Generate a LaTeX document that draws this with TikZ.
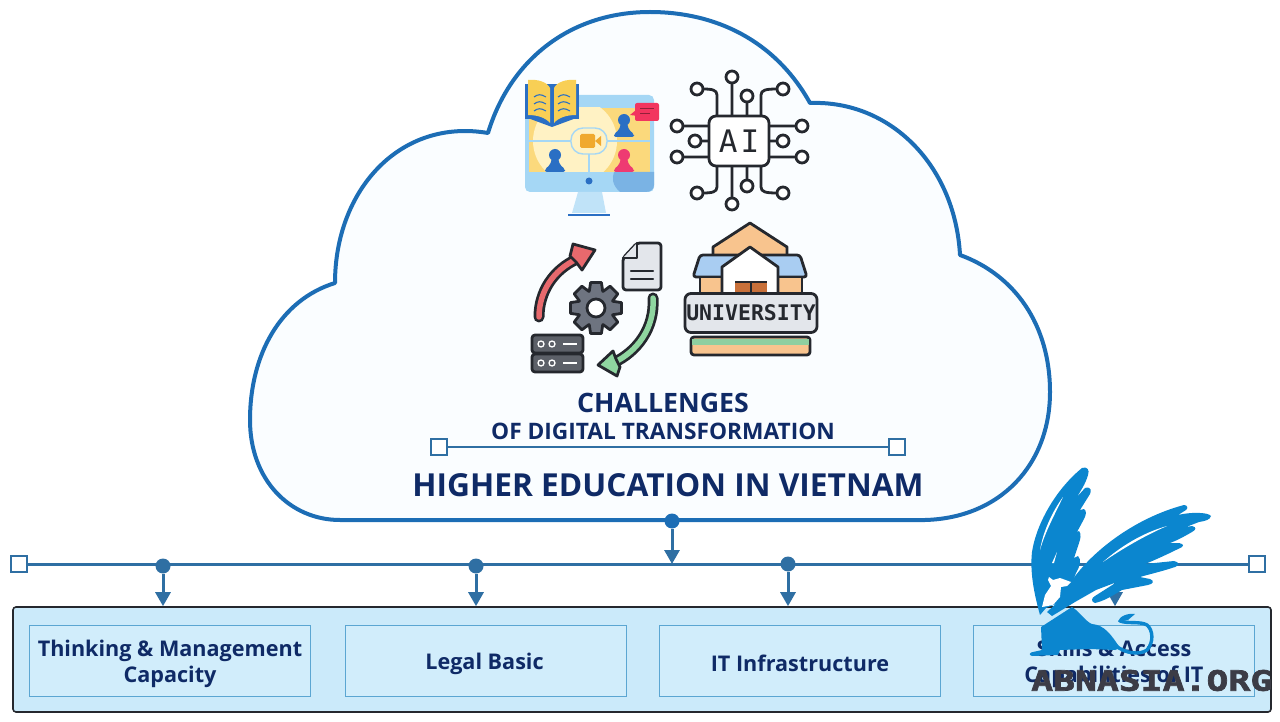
\documentclass[tikz,border=0pt]{standalone}
\usepackage{fontspec}
\setmainfont{Open Sans}
\newfontfamily\markfont{DejaVu Sans Mono}
\usetikzlibrary{arrows.meta}
\definecolor{navy}{HTML}{0F2A66}
\definecolor{cloudline}{HTML}{1C6DB5}
\definecolor{busline}{HTML}{2F6FA3}
\definecolor{panelfill}{HTML}{CBEAFA}
\definecolor{tilefill}{HTML}{D1EDFB}
\definecolor{tileline}{HTML}{5BA6D2}
\definecolor{griffin}{HTML}{0B86CF}
\definecolor{inkdark}{HTML}{25282E}
\definecolor{bezel}{HTML}{A5D7F5}
\definecolor{screenbg}{HTML}{FBD97C}
\definecolor{screenlight}{HTML}{FFF2C4}
\definecolor{peopleblue}{HTML}{2A6FC4}
\definecolor{peoplepink}{HTML}{EE3A72}
\definecolor{bookyellow}{HTML}{F8CF55}
\definecolor{camorange}{HTML}{F0A92E}
\definecolor{bubblered}{HTML}{F2355F}
\definecolor{arrowred}{HTML}{E8696D}
\definecolor{arrowgreen}{HTML}{8FD6A0}
\definecolor{geargray}{HTML}{6E7480}
\definecolor{servergray}{HTML}{5C6068}
\definecolor{paper}{HTML}{E3E6EB}
\definecolor{roofpeach}{HTML}{F8C48E}
\definecolor{roofblue}{HTML}{A9CDF2}
\definecolor{doorbrown}{HTML}{C8703A}
\definecolor{lawn}{HTML}{8ECFA0}
\definecolor{markgray}{HTML}{3C3C46}
\tikzset{
    endbox/.style={draw=busline, line width=2.8pt, fill=white, minimum size=16pt, inner sep=0pt},
    busdot/.style={circle, fill=busline, minimum size=15pt, inner sep=0pt},
    busarrow/.style={draw=busline, line width=3pt, -{Triangle[width=15pt,length=14pt]}},
    tile/.style={draw=tileline, line width=1.6pt, fill=tilefill, minimum width=281pt, minimum height=71pt},
    tiletext/.style={align=center, text=navy, font=\bfseries\fontsize{21.6}{26}\selectfont},
    icon/.style={draw=inkdark, line width=2.8pt, line join=round, line cap=round},
}

\begin{document}
\begin{tikzpicture}[x=1pt, y=-1pt]
    \useasboundingbox (0,0) rectangle (1280,722);

    % cloud
    \draw[draw=cloudline, line width=4pt, fill=cyan!2!white, line join=round]
        (340,520) -- (925,520)
        .. controls (1000,518) and (1050,465) .. (1050,392)
        .. controls (1050,325) and (1015,275) .. (960,255)
        .. controls (955,165) and (890,100) .. (810,103)
        .. controls (775,40) and (715,12) .. (650,12)
        .. controls (570,12) and (510,60) .. (488,133)
        .. controls (400,118) and (335,190) .. (335,283)
        .. controls (280,300) and (250,355) .. (250,420)
        .. controls (250,480) and (290,520) .. (340,520) -- cycle;

    % monitor
    \fill[fill=bezel, rounded corners=5pt] (525,95) rectangle (654,192);
    \fill[fill=bezel!70!white] (578,192) -- (602,192) -- (606,213) -- (572,213) -- cycle;
    \draw[draw=peopleblue, line width=2pt] (568,215) -- (610,215);
    \fill[fill=screenbg] (529,108) rectangle (650,172);
    \begin{scope}
        \clip (529,108) rectangle (650,172);
        \fill[fill=screenlight] (575,141) circle[radius=42pt];
    \end{scope}
    \fill[fill=peopleblue!35!bezel] (654,172) -- (654,185) .. controls (654,190) and (650,192) .. (645,192) -- (620,192) .. controls (612,185) and (612,178) .. (614,172) -- cycle;
    \draw[draw=bezel, line width=1.4pt] (529,141) -- (650,141) (589,141) -- (589,172);
    \fill[fill=peopleblue] (589,181) circle[radius=3.5pt];
    \foreach \px/\py/\pc in {624/120/peopleblue, 555/155/peopleblue, 624/155/peoplepink}{
        \fill[fill=\pc] (\px,\py) circle[radius=6pt];
        \fill[fill=\pc, rounded corners=2pt] (\px-3,\py+3) -- (\px+3,\py+3) -- (\px+5,\py+10) -- (\px+10,\py+14)
            -- (\px+10,\py+17) -- (\px-10,\py+17) -- (\px-10,\py+14) -- (\px-5,\py+10) -- cycle;
    }
    \draw[draw=bezel, fill=screenlight, line width=1.4pt, rounded corners=12pt] (571,128) rectangle (607,154);
    \fill[fill=camorange, rounded corners=1.5pt] (580,134) rectangle (595,148);
    \fill[fill=camorange] (595,141) -- (601,136) -- (601,146) -- cycle;
    \fill[fill=bubblered, rounded corners=2pt] (635,103) rectangle (659,121);
    \fill[fill=bubblered] (636,110) -- (630,115) -- (638,116) -- cycle;
    \draw[draw=bubblered!60!black, line width=1pt] (640,109) -- (654,109) (640,114) -- (650,114);

    % book
    \fill[fill=peopleblue] (525,84) rectangle (579,119);
    \fill[fill=peopleblue] (525,117) -- (579,117) -- (552,127) -- cycle;
    \fill[fill=bookyellow] (528,80) .. controls (538,79) and (547,82) .. (550,88) -- (550,123) .. controls (545,117) and (536,115) .. (528,115) -- cycle;
    \fill[fill=bookyellow] (576,80) .. controls (566,79) and (557,82) .. (554,88) -- (554,123) .. controls (559,117) and (568,115) .. (576,115) -- cycle;
    \foreach \ly in {97,104,111}{
        \draw[draw=peopleblue, line width=1.1pt] (534,\ly) .. controls (538,\ly-3) and (541,\ly-3) .. (546,\ly);
        \draw[draw=peopleblue, line width=1.1pt] (558,\ly) .. controls (562,\ly-3) and (565,\ly-3) .. (570,\ly);
    }

    % AI chip
    \draw[icon] (732,116) -- (732,81) (747,116) -- (747,101) (732,166) -- (732,200) (747,166) -- (747,191)
        (717,116) -- (717,95) .. controls (717,90) and (712,89) .. (703,89)
        (761,116) -- (761,95) .. controls (761,90) and (766,89) .. (777,89)
        (717,166) -- (717,187) .. controls (717,192) and (712,193) .. (703,193)
        (761,166) -- (761,187) .. controls (761,192) and (766,193) .. (777,193)
        (709,126) -- (683,126) (709,141) -- (701,141) (709,157) -- (683,157)
        (769,126) -- (796,126) (769,141) -- (777,141) (769,157) -- (796,157);
    \foreach \cx/\cy in {732/77, 747/96, 697/89, 783/89, 677/126, 695/141, 677/157, 802/126, 783/141, 802/157, 697/193, 747/186, 783/193, 732/204}{
        \draw[icon, fill=white] (\cx,\cy) circle[radius=6pt];
    }
    \node[icon, fill=white, rounded corners=7pt, minimum width=60pt, minimum height=50pt, inner sep=0pt,
        text=inkdark, font=\markfont\fontsize{31}{31}\selectfont] (chip) at (739,141) {\addfontfeature{LetterSpace=10}AI};

    % arrows round the gear
    \draw[icon, line width=11pt] (539,317) .. controls (539,292) and (553,270) .. (577,259);
    \draw[draw=arrowred, line width=5.5pt, line cap=round] (539,317) .. controls (539,292) and (553,270) .. (577,259);
    \draw[icon, fill=arrowred] (573,244) -- (595,250) -- (582,270) -- (576,262) -- (570,256) -- cycle;
    \draw[icon, line width=11pt] (653,298) .. controls (655,328) and (637,352) .. (613,363);
    \draw[draw=arrowgreen, line width=5.5pt, line cap=round] (653,298) .. controls (655,328) and (637,352) .. (613,363);
    \draw[icon, fill=arrowgreen] (598,365) -- (613,351) -- (616,359) -- (620,367) -- (617,376) -- cycle;

    % gear
    \begin{scope}[shift={(596,308)}]
        \draw[icon, fill=geargray] (338:18) \foreach \a in {0,45,...,315} { -- (\a-22:18) -- (\a-12:26) -- (\a+12:26) -- (\a+22:18) } -- cycle;
        \draw[icon, fill=white] (0,0) circle[radius=9pt];
    \end{scope}

    % document
    \draw[icon, fill=paper, rounded corners=3pt] (637,243) -- (661,243) -- (661,290) -- (623,290) -- (623,258) -- cycle;
    \draw[icon, fill=paper, line width=2.2pt] (637,243) -- (637,258) -- (623,258);
    \draw[icon, line width=2.4pt] (631,271) -- (653,271) (631,279) -- (653,279);

    % server
    \foreach \sy in {335,354}{
        \draw[icon, fill=servergray, rounded corners=3pt] (532,\sy) rectangle (583,\sy+18);
        \draw[draw=white, line width=1.3pt] (541,\sy+9) circle[radius=3pt] (552,\sy+9) circle[radius=3pt];
        \draw[draw=white, line width=1.6pt] (563,\sy+9) -- (577,\sy+9);
    }

    % university
    \draw[icon, fill=roofpeach] (713,247) -- (750,223) -- (787,247) -- (787,260) -- (713,260) -- cycle;
    \draw[icon, fill=roofblue, rounded corners=3pt] (700,255) -- (800,255) -- (807,277) -- (693,277) -- cycle;
    \draw[icon, fill=roofpeach] (700,277) rectangle (802,295);
    \draw[icon, fill=white] (722,295) -- (722,267) -- (750,247) -- (778,267) -- (778,295) -- cycle;
    \fill[fill=doorbrown] (735,282) rectangle (767,294);
    \draw[draw=inkdark, line width=1.6pt] (751,282) -- (751,294) (735,282) -- (767,282);
    \node[icon, fill=paper, rounded corners=6pt, minimum width=132pt, minimum height=39pt, inner sep=0pt,
        text=inkdark, font=\markfont\bfseries\fontsize{21.5}{22}\selectfont] (uni) at (751,313) {UNIVERSITY};
    \draw[icon, fill=roofpeach, rounded corners=3pt] (691,337) rectangle (810,355);
    \fill[fill=lawn] (692,339) rectangle (809,345);

    % title
    \node[font=\bfseries\fontsize{26.7}{26}\selectfont, text=navy] (titleA) at (663,403) {CHALLENGES};
    \node[font=\bfseries\fontsize{22.7}{22}\selectfont, text=navy] (titleB) at (663,431) {OF DIGITAL TRANSFORMATION};
    \node[font=\bfseries\fontsize{31.7}{31}\selectfont, text=navy] (titleC) at (668,485) {HIGHER EDUCATION IN VIETNAM};
    \node[endbox] (ruleL) at (439,447) {};
    \node[endbox] (ruleR) at (897,447) {};
    \draw[draw=busline, line width=2.8pt] (ruleL) -- (ruleR);

    % bottom panel
    \node[draw=inkdark, line width=1.6pt, fill=panelfill, rounded corners=3pt, minimum width=1258pt, minimum height=105pt, inner sep=0pt] (panel) at (642,659.5) {};
    \node[tile] (tileA) at (170,661) {};
    \node[tile] (tileB) at (486,661) {};
    \node[tile] (tileC) at (800,661) {};
    \node[tile] (tileD) at (1114,661) {};
    \node[tiletext] (textA) at ([yshift=-2.5pt]tileA.center) {Thinking \& Management\\Capacity};
    \node[tiletext] (textB) at ([xshift=-1.5pt,yshift=-2.5pt]tileB.center) {Legal Basic};
    \node[tiletext] (textC) at ([yshift=-2.5pt]tileC.center) {IT Infrastructure};
    \node[tiletext] (textD) at ([yshift=-2.5pt]tileD.center) {Skills \& Access\\Capabilities of IT};

    % bus
    \node[endbox] (busL) at (19,564) {};
    \node[endbox] (busR) at (1257,564) {};
    \draw[draw=busline, line width=3pt] (busL) -- (busR);
    \node[busdot] (dotA) at (163,566) {};
    \node[busdot] (dotB) at (476,566) {};
    \node[busdot] (dotC) at (788,564) {};
    \node[busdot] (dotD) at (1115,566) {};
    \node[busdot, fill=cloudline] (dotE) at (672,521) {};
    \coordinate (busE) at (672,564);
    \draw[busarrow] (dotA) -- (dotA |- panel.north);
    \draw[busarrow] (dotB) -- (dotB |- panel.north);
    \draw[busarrow] (dotC) -- (dotC |- panel.north);
    \draw[busarrow] (dotD) -- (dotD |- panel.north);
    \draw[busarrow] (dotE) -- (busE);

    % griffin: left wing
    \fill[fill=griffin, line join=round]
        (1040,615) .. controls (1033,590) and (1030,570) .. (1032,552)
        .. controls (1036,525) and (1055,490) .. (1082,468)
        .. controls (1087,466) and (1090,470) .. (1088,475)
        .. controls (1085,485) and (1081,490) .. (1077,497)
        -- (1085,488) .. controls (1092,486) and (1091,492) .. (1090,494)
        -- (1080,510) -- (1084,509) .. controls (1087,511) and (1086,515) .. (1084,519)
        -- (1077,532) -- (1079,531) .. controls (1082,534) and (1080,540) .. (1079,543)
        -- (1074,558) -- (1078,556) .. controls (1082,560) and (1080,566) .. (1076,573)
        -- (1066,600) -- (1046,608) -- cycle;
    % griffin: right wing
    \fill[fill=griffin, line join=round]
        (1047,612) -- (1060,600) .. controls (1065,595) and (1070,582) .. (1076,575)
        .. controls (1095,550) and (1135,518) .. (1184,505)
        .. controls (1188,505) and (1188,509) .. (1186,510)
        -- (1178,515) .. controls (1190,512) and (1208,512) .. (1211,516)
        .. controls (1210,520) and (1205,521) .. (1199,522)
        -- (1186,527) -- (1192,526) .. controls (1197,527) and (1196,530) .. (1192,532)
        .. controls (1185,536) and (1178,540) .. (1170,543)
        -- (1179,543) .. controls (1185,544) and (1184,547) .. (1178,549)
        .. controls (1168,554) and (1155,560) .. (1145,564)
        -- (1174,561) .. controls (1180,562) and (1179,566) .. (1175,567)
        .. controls (1160,572) and (1150,574) .. (1140,577)
        -- (1150,579) .. controls (1155,581) and (1153,584) .. (1148,585)
        -- (1122,590) .. controls (1112,596) and (1104,601) .. (1095,603)
        .. controls (1091,602) and (1091,598) .. (1095,596)
        -- (1117,582) -- (1096,590) -- (1075,602) -- (1052,616) -- cycle;
    \fill[fill=white] (1167,526) .. controls (1142,533) and (1120,547) .. (1103,562) .. controls (1122,549) and (1144,536) .. (1167,526);
    \fill[fill=white] (1063,497) .. controls (1052,512) and (1043,532) .. (1040,550) .. controls (1045,532) and (1055,514) .. (1063,497);
    \fill[fill=white] (1057,552) -- (1052,563) -- (1054,563) -- cycle;
    % griffin: body and tail
    \fill[fill=griffin, line join=round]
        (1041,627) -- (1072,607) .. controls (1080,612) and (1086,622) .. (1092,624)
        .. controls (1105,625) and (1112,636) .. (1120,648)
        -- (1115,650) -- (1090,649) -- (1060,650) -- (1058,655)
        -- (1032,656) .. controls (1028,655) and (1030,652) .. (1033,652)
        -- (1042,650) -- cycle;
    \draw[draw=griffin, line width=3.4pt, line cap=round]
        (1115,645) .. controls (1125,654) and (1140,655) .. (1147,650)
        .. controls (1154,642) and (1153,630) .. (1147,625)
        .. controls (1140,621) and (1128,624) .. (1120,621);
    \fill[fill=griffin] (1118,622) .. controls (1119,616) and (1128,613) .. (1135,614) -- (1128,620) -- cycle;
    % griffin: head
    \fill[fill=white, line join=round]
        (1049,577) -- (1053,580) -- (1060,578) -- (1071,582) -- (1067,586) -- (1061,587) -- (1060,597)
        -- (1053,605) -- (1042,607) -- (1045,595) -- (1051,586) -- (1048,580) -- cycle;

    % watermark
    \node[font=\markfont\bfseries\fontsize{28}{28}\selectfont, text=markgray, inner sep=0pt, anchor=west] (mark) at (1031,680.5)
        {\addfontfeature{FakeStretch=1.3,FakeBold=2.5}ABNASIA.ORG};
\end{tikzpicture}
\end{document}
